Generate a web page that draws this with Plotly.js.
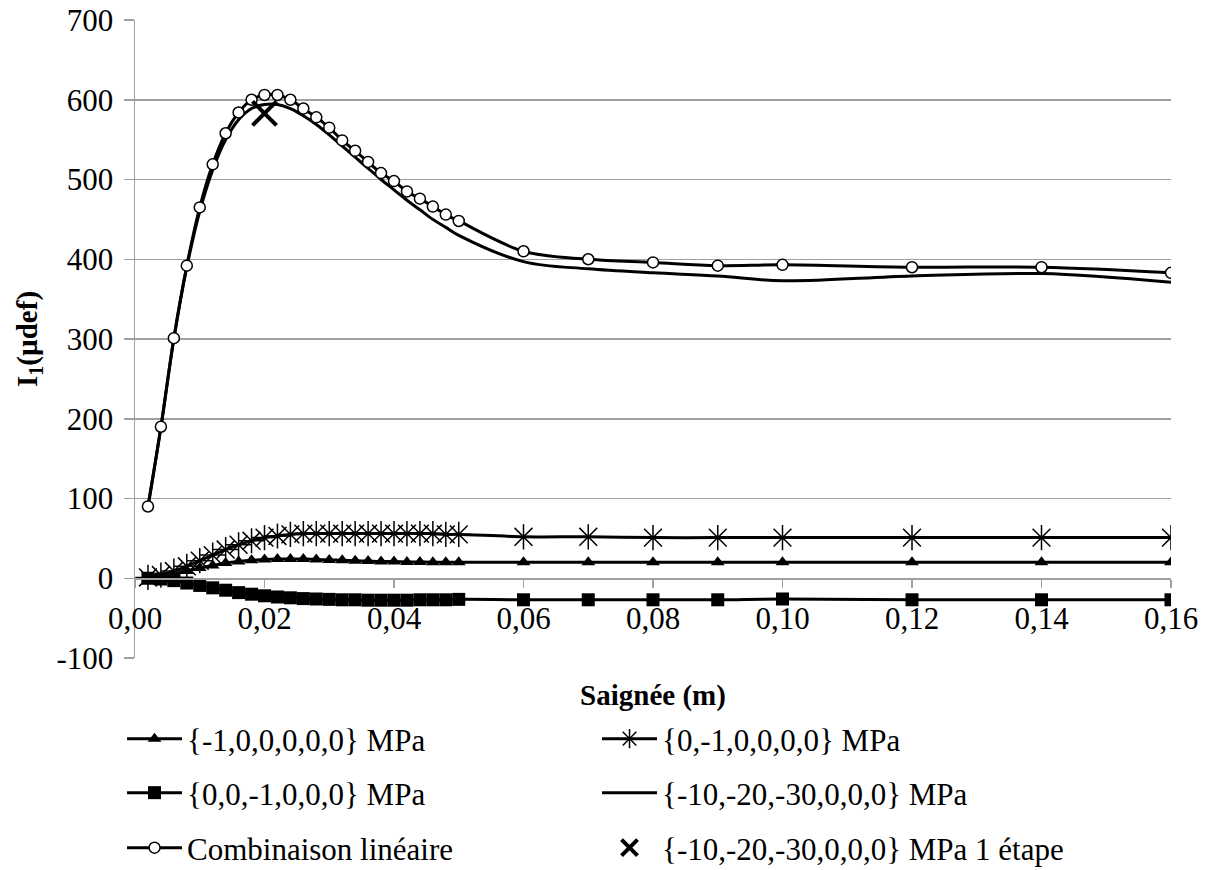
<!DOCTYPE html>
<html>
<head>
<meta charset="utf-8">
<script src="https://cdn.plot.ly/plotly-3.0.1.min.js"></script>
<style>
  html, body { margin: 0; padding: 0; background: #ffffff; }
  #chart { width: 1207px; height: 870px; }
</style>
</head>
<body>
<div id="chart"></div>
<script>
// Saignée (m)
const saignee = [0.002, 0.004, 0.006, 0.008, 0.010, 0.012, 0.014, 0.016, 0.018, 0.020,
                 0.022, 0.024, 0.026, 0.028, 0.030, 0.032, 0.034, 0.036, 0.038, 0.040,
                 0.042, 0.044, 0.046, 0.048, 0.050, 0.06, 0.07, 0.08, 0.09, 0.10,
                 0.12, 0.14, 0.16];

// {-1,0,0,0,0,0} MPa
const serieSxx = [0, 2, 5, 9, 13, 16, 19, 21, 22.5, 23.5,
                  24, 24, 24, 23.5, 23, 22.5, 22, 21.5, 21, 21,
                  20.5, 20.5, 20, 20, 20, 20, 20, 20, 20, 20,
                  20, 20, 20];

// {0,-1,0,0,0,0} MPa
const serieSyy = [1, 4, 9, 15, 22, 29, 36, 42, 47, 51,
                  53, 55, 56, 56, 56, 56, 56, 56, 56, 56,
                  56, 56, 56, 55, 55, 52, 52, 51, 51, 51,
                  51, 51, 51];

// {0,0,-1,0,0,0} MPa
const serieSzz = [0, -1, -3, -6, -9, -12, -15, -18, -20, -22,
                  -23.5, -24.5, -25.5, -26, -26.5, -27, -27, -27.5, -27.5, -27.5,
                  -27.5, -27, -27, -27, -26.5, -27, -27, -27, -27, -26,
                  -27, -27, -27];

// {-10,-20,-30,0,0,0} MPa
const serieComplet = [89, 189, 300, 390, 460, 512, 550, 575, 589, 594,
                      594, 589, 580, 569, 556, 542, 528, 514, 500, 487,
                      474, 462, 450, 440, 430, 397, 388, 383, 379, 373,
                      379, 382, 371];

// Combinaison linéaire
const serieCombinaison = [90, 190, 301, 392, 465, 519, 558, 584, 600, 606,
                          606, 600, 589, 578, 565, 549, 536, 522, 508, 498,
                          485, 476, 466, 456, 448, 410, 400, 396, 392, 393,
                          390, 390, 383];

// {-10,-20,-30,0,0,0} MPa 1 étape
const etapeX = [0.02];
const etapeY = [583];

// Y tick labels
const yTickVals = [-100, 0, 100, 200, 300, 400, 500, 600, 700];
const yTickText = ['-100', '0', '100', '200', '300', '400', '500', '600', '700'];

const names = ['{-1,0,0,0,0,0} MPa', '{0,-1,0,0,0,0} MPa', '{0,0,-1,0,0,0} MPa',
               '{-10,-20,-30,0,0,0} MPa', 'Combinaison linéaire',
               '{-10,-20,-30,0,0,0} MPa 1 étape'];

const FONT = 'Liberation Serif';
const lineStyle = {color: '#000000', width: 3, shape: 'spline', smoothing: 1};

const traces = [
  {x: saignee, y: serieSxx, name: names[0], mode: 'lines+markers', legend: 'legend',
   line: lineStyle, marker: {symbol: 'triangle-up', size: 12, color: '#000000'}},
  {x: saignee, y: serieSyy, name: names[1], mode: 'lines+markers', legend: 'legend',
   line: lineStyle, marker: {symbol: 'asterisk-open', size: 21, color: '#000000', line: {color: '#000000', width: 1.5}}},
  {x: saignee, y: serieSzz, name: names[2], mode: 'lines+markers', legend: 'legend2',
   line: lineStyle, marker: {symbol: 'square', size: 13, color: '#000000'}},
  {x: saignee, y: serieComplet, name: names[3], mode: 'lines', legend: 'legend2',
   line: lineStyle},
  {x: saignee, y: serieCombinaison, name: names[4], mode: 'lines+markers', legend: 'legend3',
   line: lineStyle, marker: {symbol: 'circle', size: 11, color: '#ffffff', line: {color: '#000000', width: 1.5}}},
  {x: etapeX, y: etapeY, name: names[5], mode: 'markers', legend: 'legend3',
   marker: {symbol: 'x-thin-open', size: 24, color: '#000000', line: {color: '#000000', width: 4}}}
];

const legendBase = {
  orientation: 'h', xanchor: 'left', yanchor: 'middle', x: 0.1011,
  xref: 'container', yref: 'container',
  font: {family: FONT, size: 31, color: '#000000'},
  entrywidth: 405, entrywidthmode: 'pixels', itemwidth: 55,
  bgcolor: 'rgba(0,0,0,0)', borderwidth: 0, traceorder: 'normal'
};

const layout = {
  width: 1207, height: 870,
  paper_bgcolor: '#ffffff', plot_bgcolor: '#ffffff',
  margin: {l: 135, r: 36, t: 20, b: 212},
  separators: ',.',
  font: {family: FONT, size: 31, color: '#000000'},
  showlegend: true,
  xaxis: {
    range: [0, 0.16], anchor: 'free', position: 0.125,
    tickmode: 'linear', tick0: 0, dtick: 0.02, tickformat: '.2f',
    ticks: 'outside', ticklen: 8, tickwidth: 1.5, tickcolor: '#a0a0a0',
    showline: true, linecolor: '#a0a0a0', linewidth: 1.5,
    showgrid: false, zeroline: false,
    ticklabelstandoff: 4,
    tickfont: {family: FONT, size: 31, color: '#000000'},
    title: {text: '<b>Saignée (m)</b>', font: {family: FONT, size: 29, color: '#000000'}, standoff: 59},
    automargin: false
  },
  yaxis: {
    range: [-100, 700], tickmode: 'array', tickvals: yTickVals, ticktext: yTickText,
    ticks: 'outside', ticklen: 10, tickwidth: 1.5, tickcolor: '#a0a0a0',
    showline: true, linecolor: '#a0a0a0', linewidth: 1.5,
    showgrid: true, gridcolor: '#a0a0a0', gridwidth: 1.5,
    zeroline: false,
    ticklabelstandoff: 4,
    tickfont: {family: FONT, size: 31, color: '#000000'},
    title: {text: '<b>I<sub>1</sub>(µdef)</b>', font: {family: FONT, size: 29, color: '#000000'}, standoff: 10},
    automargin: false
  },
  legend: Object.assign({}, legendBase, {y: 0.1506}),
  legend2: Object.assign({}, legendBase, {y: 0.0885}),
  legend3: Object.assign({}, legendBase, {y: 0.0253})
};

Plotly.newPlot('chart', traces, layout, {displayModeBar: false, staticPlot: true});
</script>
</body>
</html>
